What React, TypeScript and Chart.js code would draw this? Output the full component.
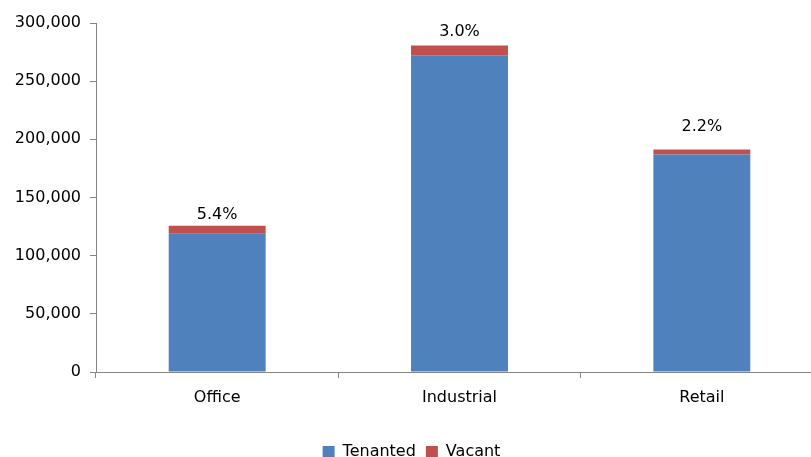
import React, { useEffect, useRef } from "react";
import { Chart, registerables } from "chart.js";

Chart.register(...registerables);

const categories = ["Office", "Industrial", "Retail"];
const tenanted = [118900, 272300, 187000];
const vacant = [6800, 8400, 4200];
const vacancyLabels = ["5.4%", "3.0%", "2.2%"];

const FONT = "'DejaVu Sans', sans-serif";
const LABEL_GAPS = [7, 9, 19];

const totalLabels = {
  id: "totalLabels",
  afterDatasetsDraw(chart: any) {
    const ctx = chart.ctx;
    const meta = chart.getDatasetMeta(1);
    ctx.save();
    ctx.font = `16px ${FONT}`;
    ctx.fillStyle = "#000";
    ctx.textAlign = "center";
    ctx.textBaseline = "alphabetic";
    meta.data.forEach((bar: any, i: number) => {
      ctx.fillText(vacancyLabels[i], bar.x, bar.y - LABEL_GAPS[i]);
    });
    ctx.restore();
  },
};

export default function App() {
  const ref = useRef<HTMLCanvasElement>(null);
  useEffect(() => {
    const chart = new Chart(ref.current!, {
      type: "bar",
      data: {
        labels: categories,
        datasets: [
          { label: "Tenanted", data: tenanted, backgroundColor: "#4F81BD", stack: "s" },
          { label: "Vacant", data: vacant, backgroundColor: "#C0504D", stack: "s" },
        ],
      },
      options: {
        animation: false,
        responsive: false,
        devicePixelRatio: 1,
        layout: { padding: { left: 0, right: 13, top: 23, bottom: 0 } },
        datasets: { bar: { categoryPercentage: 1, barPercentage: 0.4 } },
        plugins: {
          tooltip: { enabled: false },
          legend: {
            position: "bottom",
            labels: {
              boxWidth: 12,
              boxHeight: 12,
              color: "#000",
              font: { family: FONT, size: 16 },
              padding: 10,
            },
          },
        },
        scales: {
          x: {
            stacked: true,
            offset: true,
            afterFit: (s: any) => { s.height = 62; },
            grid: { offset: true, drawOnChartArea: false, tickLength: 6, color: "#868686" },
            border: { color: "#868686" },
            ticks: { color: "#000", font: { family: FONT, size: 16 }, padding: 10 },
          },
          y: {
            stacked: true,
            min: 0,
            max: 300000,
            afterFit: (s: any) => { s.width = 96; },
            grid: { drawOnChartArea: false, tickLength: 6, color: "#868686" },
            border: { color: "#868686" },
            ticks: {
              stepSize: 50000,
              color: "#000",
              font: { family: FONT, size: 16 },
              padding: 9,
              callback: (v: any) => Number(v).toLocaleString("en-US"),
            },
          },
        },
      },
      plugins: [totalLabels],
    });
    return () => chart.destroy();
  }, []);
  return (
    <div style={{ position: "fixed", left: 0, top: 0, width: 811, height: 457, overflow: "hidden", background: "#fff" }}>
      <canvas ref={ref} width={836} height={470} />
    </div>
  );
}
